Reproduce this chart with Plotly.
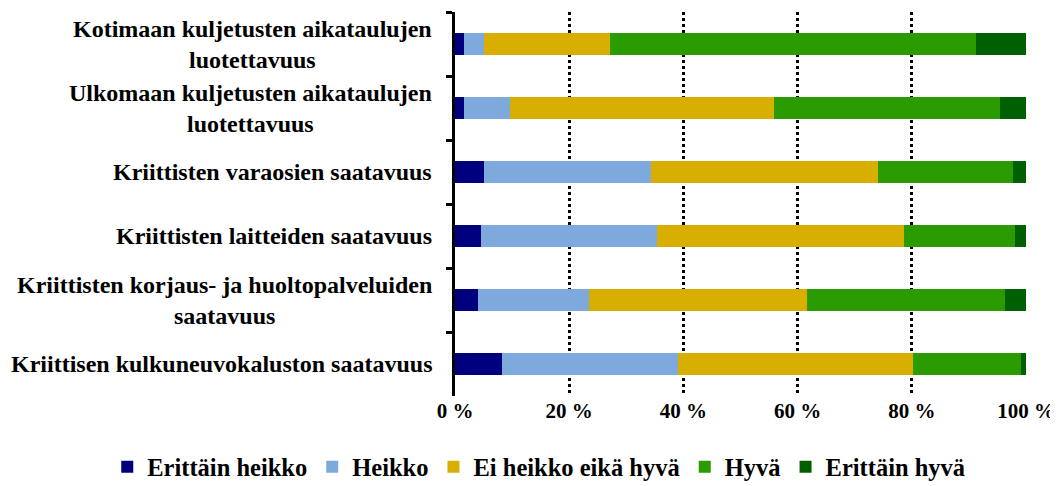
import plotly.graph_objects as go

categories = [
    "Kotimaan kuljetusten aikataulujen<br>luotettavuus",
    "Ulkomaan kuljetusten aikataulujen<br>luotettavuus",
    "Kriittisten varaosien saatavuus",
    "Kriittisten laitteiden saatavuus",
    "Kriittisten korjaus- ja huoltopalveluiden<br>saatavuus",
    "Kriittisen kulkuneuvokaluston saatavuus",
]
series_names = ["Erittäin heikko", "Heikko", "Ei heikko eikä hyvä", "Hyvä", "Erittäin hyvä"]
erittain_heikko = [1.6, 1.6, 5.0, 4.6, 4.1, 8.3]
heikko = [3.4, 8.0, 29.4, 30.7, 19.4, 30.7]
ei_heikko_eika_hyva = [22.1, 46.3, 39.6, 43.4, 38.1, 41.2]
hyva = [64.2, 39.6, 23.7, 19.4, 34.8, 18.9]
erittain_hyva = [8.7, 4.5, 2.3, 1.9, 3.6, 0.9]
colors = ["#00007F", "#7EA9DD", "#D8AF00", "#2A9C02", "#005F00"]
x_tickvals = [0, 20, 40, 60, 80, 100]
x_ticktext = ["0 %", "20 %", "40 %", "60 %", "80 %", "100 %"]

series_values = [erittain_heikko, heikko, ei_heikko_eika_hyva, hyva, erittain_hyva]

FONT = "Liberation Serif, Times New Roman, serif"

fig = go.Figure()
for name, vals, col in zip(series_names, series_values, colors):
    fig.add_trace(go.Bar(
        y=categories, x=vals, name=name, orientation="h",
        marker=dict(color=col, line=dict(width=0)),
        hoverinfo="x+name",
    ))

annotations = []
for cat in categories:
    annotations.append(dict(
        x=0, xref="paper", y=cat, yref="y", text=cat,
        xanchor="right", yanchor="middle", align="center", showarrow=False,
        xshift=-21,
        font=dict(family=FONT, size=24, color="black", weight="bold"),
    ))

# page body has an 8px margin, so the figure is sized to fit the 1058x486 window
fig.update_layout(
    barmode="stack",
    bargap=0.66,
    width=1050, height=478,
    margin=dict(l=447, r=32, t=4, b=90, autoexpand=False),
    paper_bgcolor="white", plot_bgcolor="white",
    font=dict(family=FONT, color="black"),
    showlegend=True,
    legend=dict(
        orientation="h", x=-0.609, xanchor="left", y=-0.126, yanchor="top",
        font=dict(family=FONT, size=24.5, color="black", weight="bold"),
        traceorder="normal", itemwidth=30,
    ),
    annotations=annotations,
    xaxis=dict(
        range=[0, 100], tickvals=x_tickvals, ticktext=x_ticktext,
        showgrid=True, gridcolor="black", gridwidth=3, griddash="dot",
        zeroline=False, showline=False, automargin=False,
        tickfont=dict(family=FONT, size=21, color="black", weight="bold"),
        ticks="", fixedrange=True,
    ),
    yaxis=dict(
        autorange="reversed", showticklabels=False, automargin=False,
        showline=True, linecolor="black", linewidth=3,
        ticks="outside", tickson="boundaries", ticklen=6, tickwidth=3, tickcolor="black",
        showgrid=False, zeroline=False,
    ),
)

fig.write_html("out.html")
